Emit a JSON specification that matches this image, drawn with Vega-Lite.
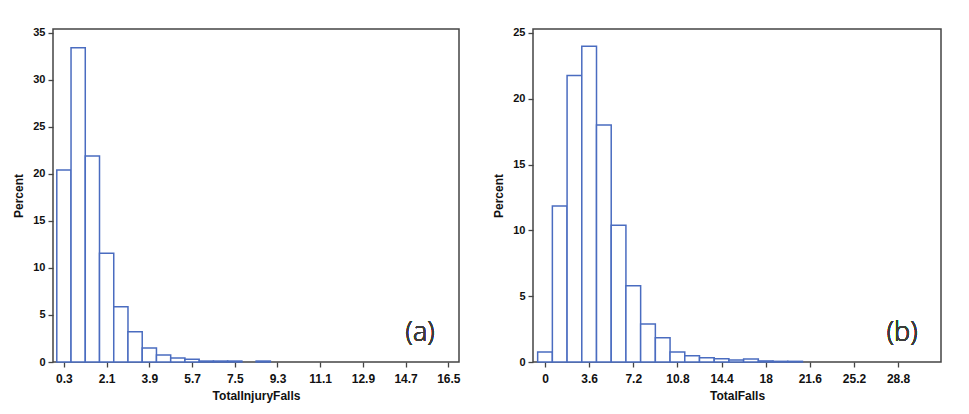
{
  "$schema": "https://vega.github.io/schema/vega-lite/v6.json",
  "background": "white",
  "padding": {"left": 12, "top": 26, "right": 5, "bottom": 5},
  "spacing": 31,
  "config": {
    "view": {"stroke": "#444444", "strokeWidth": 1.5},
    "axis": {
      "grid": false,
      "domain": false,
      "labelFont": "Liberation Sans",
      "labelFontWeight": "bold",
      "labelColor": "#111111",
      "titleFont": "Liberation Sans",
      "titleFontWeight": "bold",
      "titleFontSize": 12,
      "titleColor": "#111111",
      "tickColor": "#444444",
      "tickSize": 5,
      "tickWidth": 1.3
    },
    "axisX": {"labelFontSize": 12, "labelPadding": 6, "titlePadding": 6},
    "axisY": {"labelFontSize": 11, "labelPadding": 3, "titlePadding": 7}
  },
  "hconcat": [
    {
      "width": 406,
      "height": 333,
      "data": {
        "values": [
          {"lo": 0.0, "hi": 0.6, "pct": 20.4},
          {"lo": 0.6, "hi": 1.2, "pct": 33.4},
          {"lo": 1.2, "hi": 1.8, "pct": 21.9},
          {"lo": 1.8, "hi": 2.4, "pct": 11.56},
          {"lo": 2.4, "hi": 3.0, "pct": 5.88},
          {"lo": 3.0, "hi": 3.6, "pct": 3.22},
          {"lo": 3.6, "hi": 4.2, "pct": 1.5},
          {"lo": 4.2, "hi": 4.8, "pct": 0.74},
          {"lo": 4.8, "hi": 5.4, "pct": 0.43},
          {"lo": 5.4, "hi": 6.0, "pct": 0.29},
          {"lo": 6.0, "hi": 6.6, "pct": 0.1},
          {"lo": 6.6, "hi": 7.2, "pct": 0.1},
          {"lo": 7.2, "hi": 7.8, "pct": 0.1},
          {"lo": 8.4, "hi": 9.0, "pct": 0.1}
        ]
      },
      "layer": [
        {
          "mark": {"type": "rect", "fill": "white", "stroke": "#4a6cc0", "strokeWidth": 1.5},
          "encoding": {
            "x": {
              "field": "lo",
              "type": "quantitative",
              "scale": {"domain": [-0.16, 16.95], "nice": false, "zero": false},
              "axis": {"values": [0.3, 2.1, 3.9, 5.7, 7.5, 9.3, 11.1, 12.9, 14.7, 16.5], "format": ".1f", "title": "TotalInjuryFalls"}
            },
            "x2": {"field": "hi"},
            "y": {
              "field": "pct",
              "type": "quantitative",
              "scale": {"domain": [0, 35.4], "nice": false},
              "axis": {"values": [0, 5, 10, 15, 20, 25, 30, 35], "title": "Percent"}
            },
            "y2": {"datum": 0}
          }
        },
        {
          "mark": {"type": "text", "text": "(a)", "font": "Open Sans", "fontWeight": 300, "fontSize": 27, "color": "#3c3c3c", "align": "center", "baseline": "alphabetic"},
          "encoding": {
            "x": {"datum": 15.31, "type": "quantitative"},
            "y": {"datum": 2.23, "type": "quantitative"}
          }
        }
      ]
    },
    {
      "width": 408,
      "height": 333,
      "data": {
        "values": [
          {"lo": -0.6, "hi": 0.6, "pct": 0.76},
          {"lo": 0.6, "hi": 1.8, "pct": 11.85},
          {"lo": 1.8, "hi": 3.0, "pct": 21.76},
          {"lo": 3.0, "hi": 4.2, "pct": 23.99},
          {"lo": 4.2, "hi": 5.4, "pct": 18.0},
          {"lo": 5.4, "hi": 6.6, "pct": 10.39},
          {"lo": 6.6, "hi": 7.8, "pct": 5.8},
          {"lo": 7.8, "hi": 9.0, "pct": 2.89},
          {"lo": 9.0, "hi": 10.2, "pct": 1.85},
          {"lo": 10.2, "hi": 11.4, "pct": 0.76},
          {"lo": 11.4, "hi": 12.6, "pct": 0.48},
          {"lo": 12.6, "hi": 13.8, "pct": 0.33},
          {"lo": 13.8, "hi": 15.0, "pct": 0.25},
          {"lo": 15.0, "hi": 16.2, "pct": 0.15},
          {"lo": 16.2, "hi": 17.4, "pct": 0.23},
          {"lo": 17.4, "hi": 18.6, "pct": 0.08},
          {"lo": 18.6, "hi": 19.8, "pct": 0.05},
          {"lo": 19.8, "hi": 21.0, "pct": 0.05}
        ]
      },
      "layer": [
        {
          "mark": {"type": "rect", "fill": "white", "stroke": "#4a6cc0", "strokeWidth": 1.5},
          "encoding": {
            "x": {
              "field": "lo",
              "type": "quantitative",
              "scale": {"domain": [-0.98, 32.3], "nice": false, "zero": false},
              "axis": {"values": [0, 3.6, 7.2, 10.8, 14.4, 18, 21.6, 25.2, 28.8], "format": ".3~g", "title": "TotalFalls"}
            },
            "x2": {"field": "hi"},
            "y": {
              "field": "pct",
              "type": "quantitative",
              "scale": {"domain": [0, 25.3], "nice": false},
              "axis": {"values": [0, 5, 10, 15, 20, 25], "title": "Percent"}
            },
            "y2": {"datum": 0}
          }
        },
        {
          "mark": {"type": "text", "text": "(b)", "font": "Open Sans", "fontWeight": 300, "fontSize": 27, "color": "#3c3c3c", "align": "center", "baseline": "alphabetic"},
          "encoding": {
            "x": {"datum": 29.13, "type": "quantitative"},
            "y": {"datum": 1.6, "type": "quantitative"}
          }
        }
      ]
    }
  ]
}
